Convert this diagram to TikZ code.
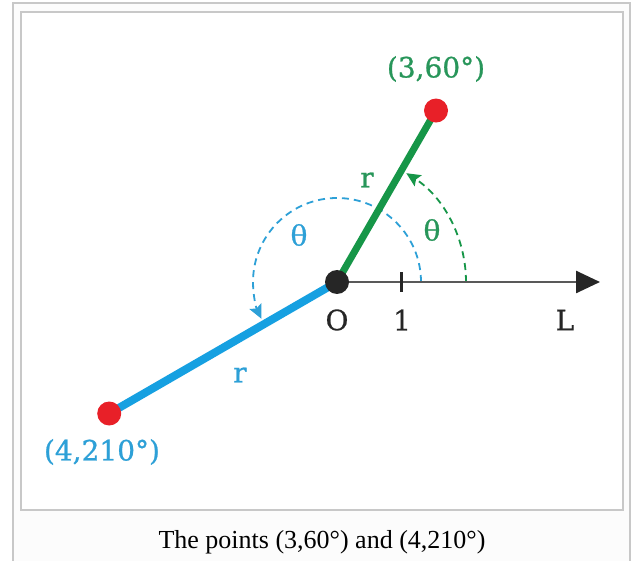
\documentclass[tikz,border=0pt]{standalone}
\usepackage{fontspec}
\setmainfont{Liberation Serif}
\newfontfamily\lblfont[FakeBold=0.8]{DejaVu Serif}
\usetikzlibrary{arrows.meta,calc,positioning}
\definecolor{rgreen}{RGB}{22,150,72}
\definecolor{rblue}{RGB}{22,160,225}
\definecolor{tgreen}{RGB}{40,150,90}
\definecolor{tblue}{RGB}{45,160,215}
\definecolor{rdot}{RGB}{232,32,40}
\definecolor{framegray}{RGB}{200,200,200}

\begin{document}
\begin{tikzpicture}[x=1pt,y=1pt,
  lbl/.style={font=\lblfont\fontsize{28}{32}\selectfont, inner sep=0pt},
  reddot/.style={circle, fill=rdot, minimum size=24pt, inner sep=0pt},
  dasharc/.style={line width=1.8pt, dash pattern=on 7pt off 5pt, -{Stealth[length=14pt,width=13pt,inset=2.5pt]}}]
\useasboundingbox (0,0) rectangle (631,560);
\filldraw[fill=gray!2, draw=framegray, line width=2pt] (12.5,-10) rectangle (629.5,556.5);
\filldraw[fill=white, draw=framegray, line width=2pt] (20.5,50) rectangle (622.5,548);
\coordinate (o) at (337,278);
\coordinate (p1) at ([shift={(60:198)}]o);
\coordinate (p2) at ([shift={(210:263)}]o);
\coordinate (lend) at (600,278);
\draw[dasharc, tblue] ([shift={(0:84)}]o) arc[start angle=0, end angle=206, radius=84];
\draw[dasharc, rgreen] ([shift={(0:129)}]o) arc[start angle=0, end angle=57.5, radius=129];
\draw[gray!70!black, line width=2.6pt, -{Triangle[length=24pt,width=22pt,color=black!85]}] (o) -- (lend);
\draw[black!85, line width=3pt] ([shift={(64,-10)}]o) -- ([shift={(64,10)}]o);
\draw[rgreen, line width=7pt] (o) -- (p1);
\draw[rblue, line width=8pt] (o) -- (p2);
\node[reddot] (ptone) at (p1) {};
\node[reddot] (pttwo) at (p2) {};
\node[circle, fill=black!85, minimum size=24pt, inner sep=0pt] (orig) at (o) {};
\node[lbl, tgreen] (ptonelbl) at (436,491) {(3,60°)};
\node[lbl, tgreen] (rone) at (367,380) {r};
\node[lbl, tgreen] (thone) at (432,330) {θ};
\node[lbl, tblue] (thtwo) at (299,325) {θ};
\node[lbl, black!85] (olbl) at (337,240) {O};
\node[lbl, black!85] (onelbl) at (402,240) {1};
\node[lbl, black!85] (llbl) at (565,240) {L};
\node[lbl, tblue] (rtwo) at (240,185) {r};
\node[lbl, tblue] (pttwolbl) at (102,108) {(4,210°)};
\node[font=\fontsize{26}{30}\selectfont, anchor=base] (caption) at (322,12) {The points (3,60°) and (4,210°)};
\end{tikzpicture}
\end{document}
